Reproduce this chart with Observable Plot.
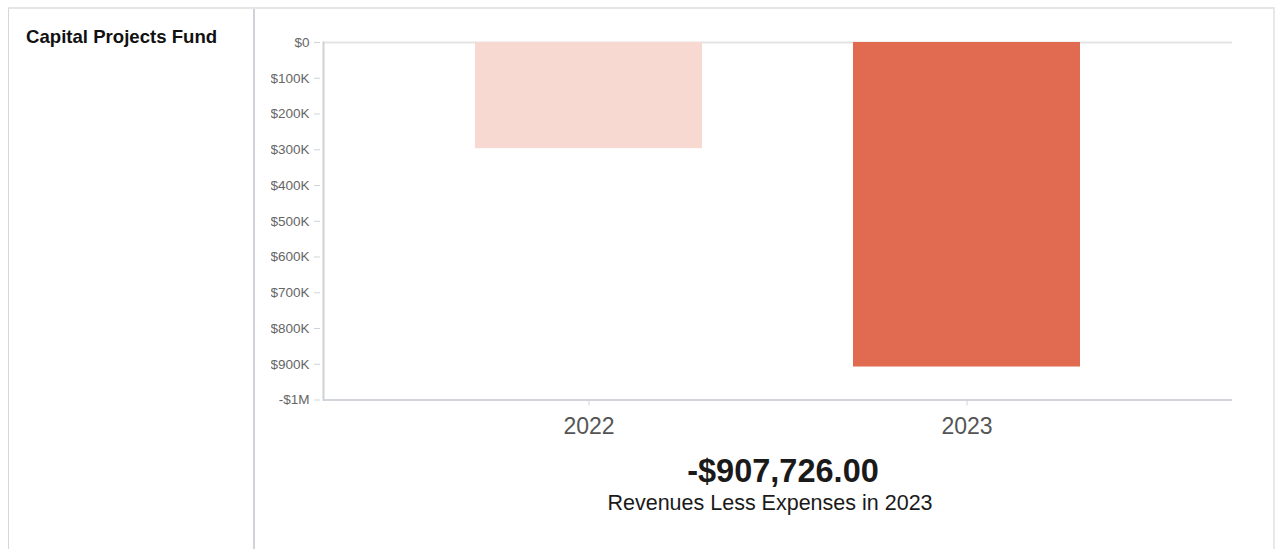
<!DOCTYPE html>
<html>
<head>
<meta charset="utf-8">
<script src="https://cdn.jsdelivr.net/npm/d3@7"></script>
<script src="https://cdn.jsdelivr.net/npm/@observablehq/plot@0.6"></script>
<style>
  html, body { margin: 0; padding: 0; background: #fff; width: 1277px; height: 549px; overflow: hidden; font-family: "Liberation Sans", Arial, sans-serif; }
  #box { position: absolute; left: 8px; top: 7px; width: 1267px; height: 560px; border-top: 2px solid #e6e6e6; border-left: 1px solid #d3d6da; border-right: 2px solid #e8e8e8; box-sizing: border-box; }
  #divider { position: absolute; left: 253px; top: 9px; width: 2px; height: 560px; background: #d0d4d8; }
  #title { position: absolute; left: 26px; top: 27.5px; font-size: 18.6px; line-height: 18.6px; font-weight: bold; color: #111; white-space: nowrap; }
  #chart { position: absolute; left: 271px; top: 30px; }
  #big { position: absolute; left: 783px; top: 455px; transform: translateX(-50%); font-size: 32.5px; line-height: 32.5px; font-weight: bold; color: #1a1a1a; white-space: nowrap; }
  #sub { position: absolute; left: 770px; top: 492.5px; transform: translateX(-50%); font-size: 21.5px; line-height: 21.5px; color: #1a1a1a; white-space: nowrap; }
</style>
</head>
<body>
<div id="box"></div>
<div id="divider"></div>
<div id="title"></div>
<div id="chart"></div>
<div id="big"></div>
<div id="sub"></div>
<script>
const fundName = "Capital Projects Fund";
const years = ["2022", "2023"];
const values = [-297000, -907726];
const barColors = ["#f7d9d1", "#e06b51"];
const yTicks = [0, -100000, -200000, -300000, -400000, -500000, -600000, -700000, -800000, -900000, -1000000];
const yTickLabels = ["$0", "-$100K", "-$200K", "-$300K", "-$400K", "-$500K", "-$600K", "-$700K", "-$800K", "-$900K", "-$1M"];
const headlineValue = "-$907,726.00";
const headlineLabel = "Revenues Less Expenses in 2023";

const data = years.map((y, i) => ({year: y, value: values[i]}));

document.getElementById("title").textContent = fundName;
document.getElementById("big").textContent = headlineValue;
document.getElementById("sub").textContent = headlineLabel;

const chart = Plot.plot({
  width: 979,
  height: 420,
  marginLeft: 52,
  marginRight: 18,
  marginTop: 12,
  marginBottom: 50.5,
  style: {fontFamily: "'Liberation Sans', Arial, sans-serif", background: "transparent", overflow: "hidden"},
  x: {domain: years, padding: 0.4},
  y: {domain: [-1000000, 0]},
  color: {domain: years, range: barColors},
  marks: [
    Plot.ruleY([0], {stroke: "#e3e4e6", strokeWidth: 2}),
    Plot.barY(data, {x: "year", y: "value", fill: "year"}),
    Plot.ruleY([-1000000], {stroke: "#d2d5da", strokeWidth: 2}),
    Plot.frame({anchor: "left", stroke: "#cdd1d6", strokeWidth: 2}),
    Plot.axisY({ticks: yTicks, tickFormat: (d) => yTickLabels[yTicks.indexOf(d)], tickSize: 6, tickPadding: 5, dx: -3, fontSize: 13.5, fill: "#666", stroke: "#d0d4d8", label: null}),
    Plot.axisX({tickSize: 6, tickPadding: 12, fontSize: 23, fill: "#555", stroke: "#d0d4d8", label: null})
  ]
});
document.getElementById("chart").appendChild(chart);
</script>
</body>
</html>
